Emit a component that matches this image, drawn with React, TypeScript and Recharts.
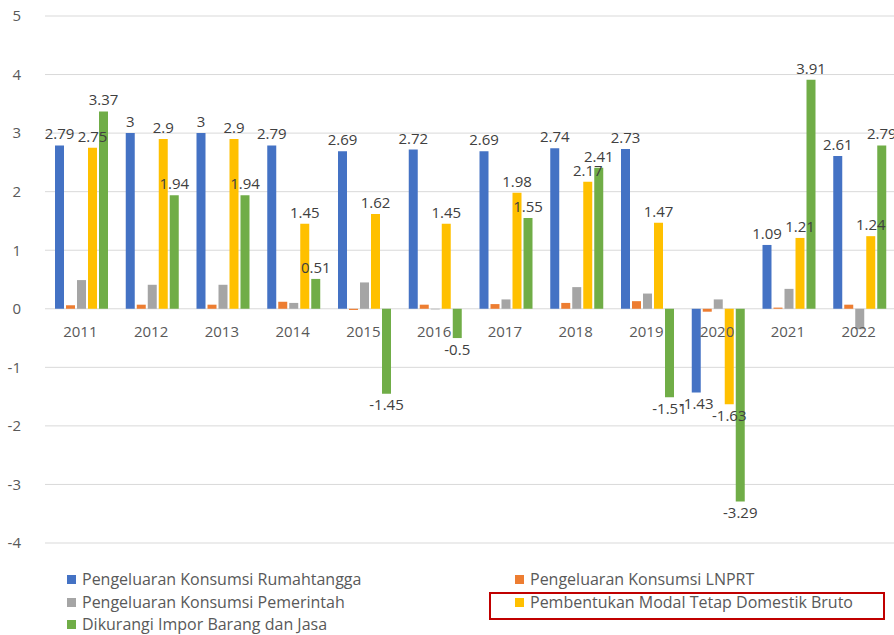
import React from 'react'
import {
  BarChart,
  Bar,
  XAxis,
  YAxis,
  CartesianGrid,
  LabelList,
  Legend,
} from 'recharts'

const years = ['2011', '2012', '2013', '2014', '2015', '2016', '2017', '2018', '2019', '2020', '2021', '2022']

const rumahTangga = [2.79, 3, 3, 2.79, 2.69, 2.72, 2.69, 2.74, 2.73, -1.43, 1.09, 2.61]
const lnprt = [0.06, 0.07, 0.07, 0.12, -0.02, 0.07, 0.08, 0.1, 0.13, -0.05, 0.02, 0.07]
const pemerintah = [0.49, 0.41, 0.41, 0.1, 0.45, -0.01, 0.16, 0.37, 0.26, 0.16, 0.34, -0.35]
const pmtb = [2.75, 2.9, 2.9, 1.45, 1.62, 1.45, 1.98, 2.17, 1.47, -1.63, 1.21, 1.24]
const impor = [3.37, 1.94, 1.94, 0.51, -1.45, -0.5, 1.55, 2.41, -1.51, -3.29, 3.91, 2.79]

const yTicks = [-4, -3, -2, -1, 0, 1, 2, 3, 4, 5]

const series = [
  { key: 'rt', name: 'Pengeluaran Konsumsi Rumahtangga', color: '#4472c4', values: rumahTangga, label: true },
  { key: 'lnprt', name: 'Pengeluaran Konsumsi LNPRT', color: '#ed7d31', values: lnprt, label: false },
  { key: 'pem', name: 'Pengeluaran Konsumsi Pemerintah', color: '#a5a5a5', values: pemerintah, label: false },
  { key: 'pmtb', name: 'Pembentukan Modal Tetap Domestik Bruto', color: '#ffc000', values: pmtb, label: true },
  { key: 'imp', name: 'Dikurangi Impor Barang dan Jasa', color: '#70ad47', values: impor, label: true },
]

const data = years.map((year, i) => {
  const row: Record<string, string | number> = { year }
  series.forEach((s) => {
    row[s.key] = s.values[i]
  })
  return row
})

const W = 894
const H = 635
const TOP = 16
const X_AXIS_H = 22
const LEGEND_H = 70
const PLOT_H = H - TOP - X_AXIS_H - LEGEND_H
const Y_MIN = -4
const Y_MAX = 5
const ZERO_FROM_BOTTOM = (PLOT_H * (0 - Y_MIN)) / (Y_MAX - Y_MIN)
const FONT = '"Open Sans", sans-serif'

// year labels sit just under the zero line, like in excel
const YearTick = (props: any) => {
  const { x, y, payload } = props
  return (
    <text
      x={x}
      y={y - ZERO_FROM_BOTTOM + 22}
      textAnchor="middle"
      dominantBaseline="central"
      fill="#595959"
      fontSize={15}
      fontFamily={FONT}
    >
      {payload.value}
    </text>
  )
}

// legend order: two columns, filled row by row
const legendSlots = [
  { left: 67, top: 5 },
  { left: 515, top: 5 },
  { left: 67, top: 28 },
  { left: 515, top: 28 },
  { left: 67, top: 50 },
]

const renderLegend = () => (
  <div style={{ position: 'relative', width: W, height: LEGEND_H, fontFamily: FONT, fontSize: 16, color: '#595959' }}>
    <div
      style={{
        position: 'absolute',
        left: 489,
        top: 27,
        width: 392,
        height: 24,
        border: '2px solid #c00000',
      }}
    />
    {series.map((s, i) => (
      <div
        key={s.key}
        style={{
          position: 'absolute',
          left: legendSlots[i].left,
          top: legendSlots[i].top,
          display: 'flex',
          alignItems: 'center',
          whiteSpace: 'nowrap',
          lineHeight: '19px',
        }}
      >
        <span style={{ width: 9, height: 9, background: s.color, display: 'inline-block', marginRight: 6 }} />
        {s.name}
      </div>
    ))}
  </div>
)

export default function App() {
  return (
    <div style={{ position: 'absolute', left: 0, top: 0 }}>
      <BarChart
        width={W}
        height={H}
        data={data}
        margin={{ top: TOP, right: 0, left: 0, bottom: 0 }}
        barCategoryGap={10}
        barGap={2}
      >
        <CartesianGrid vertical={false} stroke="#d9d9d9" />
        <XAxis
          dataKey="year"
          height={X_AXIS_H}
          axisLine={false}
          tickLine={false}
          tickSize={0}
          tickMargin={0}
          interval={0}
          tick={<YearTick />}
        />
        <YAxis
          domain={[Y_MIN, Y_MAX]}
          ticks={yTicks}
          width={45}
          axisLine={false}
          tickLine={false}
          tickMargin={18}
          tick={{ fill: '#595959', fontSize: 15, fontFamily: FONT }}
        />
        <Legend verticalAlign="bottom" height={LEGEND_H} content={renderLegend} wrapperStyle={{ left: 0, bottom: 0, width: W }} />
        {series.map((s) => (
          <Bar key={s.key} dataKey={s.key} name={s.name} fill={s.color} isAnimationActive={false}>
            {s.label && (
              <LabelList
                dataKey={s.key}
                position="top"
                offset={6}
                fill="#404040"
                fontSize={15}
                fontFamily={FONT}
              />
            )}
          </Bar>
        ))}
      </BarChart>
    </div>
  )
}
